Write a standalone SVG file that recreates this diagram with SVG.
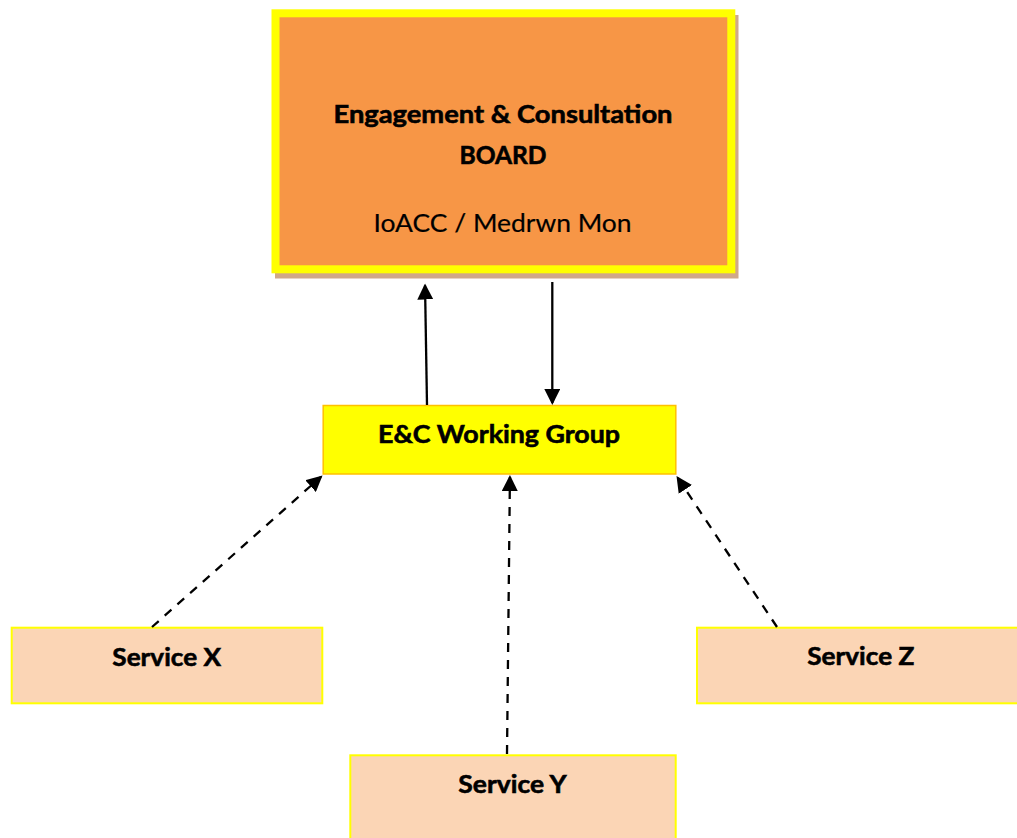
<svg xmlns="http://www.w3.org/2000/svg" width="1017" height="838" viewBox="0 0 1017 838">
  <defs>
    <style>
      .lbl { font-family: Lato, "Open Sans", "Liberation Sans", sans-serif; fill: #000; text-anchor: middle; }
      .b { font-weight: bold; font-size: 25.5px; stroke: #000; stroke-width: 0.6; }
      .r { font-weight: normal; font-size: 25.5px; stroke: #000; stroke-width: 0.2; }
      .svc { fill: #fbd5b5; stroke: #ffff00; stroke-width: 2; }
      .link { fill: none; stroke: #000; stroke-width: 2.3; }
      .dash { stroke-dasharray: 9 8; }
    </style>
    <marker id="head" markerUnits="userSpaceOnUse" markerWidth="16" markerHeight="16"
            viewBox="0 0 16 16" refX="14" refY="8" orient="auto">
      <path d="M0,0 L16,8 L0,16 Z" fill="#000"/>
    </marker>
  </defs>

  <rect width="1017" height="838" fill="#ffffff"/>

  <!-- top board with drop shadow and thick yellow frame -->
  <g id="board">
    <rect x="275" y="15" width="463.5" height="263.5" fill="#d0a888"/>
    <rect x="275.5" y="13.3" width="455.8" height="256" fill="#f79646" stroke="#ffff00" stroke-width="8"/>
    <text class="lbl b" x="503" y="123.3" textLength="339" lengthAdjust="spacingAndGlyphs">Engagement &amp; Consultation</text>
    <text class="lbl b" x="503" y="164" textLength="87" lengthAdjust="spacingAndGlyphs">BOARD</text>
    <text class="lbl r" x="502.5" y="231.7" textLength="258" lengthAdjust="spacingAndGlyphs">IoACC / Medrwn Mon</text>
  </g>

  <g id="working-group">
    <rect x="323.2" y="405.5" width="352.6" height="68.5" fill="#ffff00" stroke="#ffc000" stroke-width="1.5"/>
    <text class="lbl b" x="499" y="443.3" textLength="242" lengthAdjust="spacingAndGlyphs">E&amp;C Working Group</text>
  </g>

  <g id="service-x">
    <rect class="svc" x="11.7" y="627.7" width="310.6" height="75.6"/>
    <text class="lbl b" x="166.7" y="666" textLength="108.7" lengthAdjust="spacingAndGlyphs">Service X</text>
  </g>

  <g id="service-y">
    <rect class="svc" x="350.3" y="755.3" width="325.4" height="100"/>
    <text class="lbl b" x="512.5" y="793.3" textLength="108.3" lengthAdjust="spacingAndGlyphs">Service Y</text>
  </g>

  <g id="service-z">
    <rect class="svc" x="697" y="627.7" width="340" height="75.6"/>
    <text class="lbl b" x="860.8" y="665" textLength="107" lengthAdjust="spacingAndGlyphs">Service Z</text>
  </g>

  <g id="connectors">
    <!-- working group up to board -->
    <path class="link" d="M427,405 L425.03,285.5" marker-end="url(#head)"/>
    <!-- board down to working group -->
    <path class="link" d="M552.3,282 L552.3,403" marker-end="url(#head)"/>
    <!-- services feeding the working group -->
    <path class="link dash" d="M152,627 L321,476.8" marker-end="url(#head)"/>
    <path class="link dash" d="M507,754 L509.93,477" marker-end="url(#head)"/>
    <path class="link dash" d="M777,627 L677.6,477.7" marker-end="url(#head)"/>
  </g>
</svg>
